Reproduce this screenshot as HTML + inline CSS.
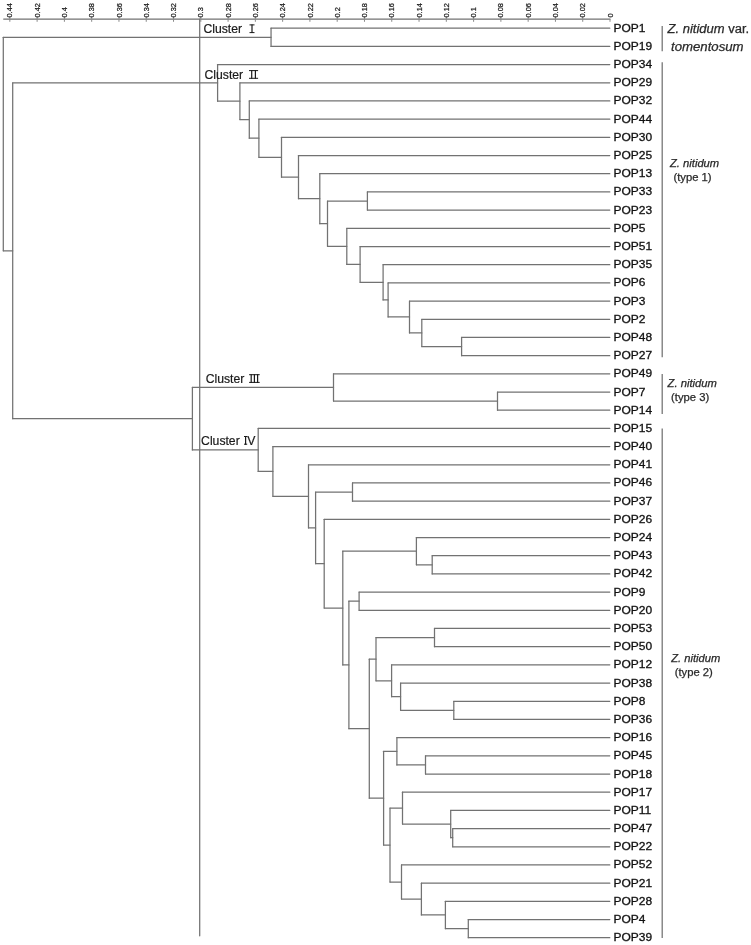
<!DOCTYPE html>
<html><head><meta charset="utf-8"><title>Dendrogram</title>
<style>
html,body{margin:0;padding:0;background:#fff;}
body{width:751px;height:945px;overflow:hidden;font-family:"Liberation Sans",sans-serif;}
svg{display:block;will-change:transform;opacity:0.999;}
svg text{font-family:"Liberation Sans",sans-serif;}
.ln line{stroke:#727272;stroke-width:1.25;stroke-linecap:round;}
.tk{font-size:7.4px;fill:#222;stroke:#222;stroke-width:0.25px;}
.lf{font-size:11.2px;fill:#111;stroke:#111;stroke-width:0.3px;}
.cl{font-size:12.2px;fill:#1a1a1a;stroke:#1a1a1a;stroke-width:0.2px;}
.rn line{stroke:#1a1a1a;stroke-width:1;}
.sp{fill:#2a2a2a;stroke:#2a2a2a;stroke-width:0.25px;}
</style></head><body>
<svg width="751" height="945" viewBox="0 0 751 945">
<rect width="751" height="945" fill="#fff"/>
<g class="ln">
<line x1="3.7" y1="19.0" x2="610.0" y2="19.0"/>
<line x1="199.7" y1="19.0" x2="199.7" y2="935.8"/>
<line x1="271.05" y1="28.22" x2="271.05" y2="46.41"/>
<line x1="271.05" y1="28.22" x2="609.80" y2="28.22"/>
<line x1="271.05" y1="46.41" x2="609.80" y2="46.41"/>
<line x1="367.40" y1="191.93" x2="367.40" y2="210.12"/>
<line x1="367.40" y1="191.93" x2="609.80" y2="191.93"/>
<line x1="367.40" y1="210.12" x2="609.80" y2="210.12"/>
<line x1="461.60" y1="337.45" x2="461.60" y2="355.64"/>
<line x1="461.60" y1="337.45" x2="609.80" y2="337.45"/>
<line x1="461.60" y1="355.64" x2="609.80" y2="355.64"/>
<line x1="421.80" y1="319.26" x2="421.80" y2="346.55"/>
<line x1="421.80" y1="319.26" x2="609.80" y2="319.26"/>
<line x1="421.80" y1="346.55" x2="461.60" y2="346.55"/>
<line x1="409.50" y1="301.07" x2="409.50" y2="332.90"/>
<line x1="409.50" y1="301.07" x2="609.80" y2="301.07"/>
<line x1="409.50" y1="332.90" x2="421.80" y2="332.90"/>
<line x1="388.10" y1="282.88" x2="388.10" y2="316.99"/>
<line x1="388.10" y1="282.88" x2="609.80" y2="282.88"/>
<line x1="388.10" y1="316.99" x2="409.50" y2="316.99"/>
<line x1="383.10" y1="264.69" x2="383.10" y2="299.93"/>
<line x1="383.10" y1="264.69" x2="609.80" y2="264.69"/>
<line x1="383.10" y1="299.93" x2="388.10" y2="299.93"/>
<line x1="360.10" y1="246.50" x2="360.10" y2="282.31"/>
<line x1="360.10" y1="246.50" x2="609.80" y2="246.50"/>
<line x1="360.10" y1="282.31" x2="383.10" y2="282.31"/>
<line x1="346.80" y1="228.31" x2="346.80" y2="264.41"/>
<line x1="346.80" y1="228.31" x2="609.80" y2="228.31"/>
<line x1="346.80" y1="264.41" x2="360.10" y2="264.41"/>
<line x1="327.50" y1="201.03" x2="327.50" y2="246.36"/>
<line x1="327.50" y1="201.03" x2="367.40" y2="201.03"/>
<line x1="327.50" y1="246.36" x2="346.80" y2="246.36"/>
<line x1="319.80" y1="173.74" x2="319.80" y2="223.69"/>
<line x1="319.80" y1="173.74" x2="609.80" y2="173.74"/>
<line x1="319.80" y1="223.69" x2="327.50" y2="223.69"/>
<line x1="298.50" y1="155.55" x2="298.50" y2="198.72"/>
<line x1="298.50" y1="155.55" x2="609.80" y2="155.55"/>
<line x1="298.50" y1="198.72" x2="319.80" y2="198.72"/>
<line x1="281.50" y1="137.36" x2="281.50" y2="177.13"/>
<line x1="281.50" y1="137.36" x2="609.80" y2="137.36"/>
<line x1="281.50" y1="177.13" x2="298.50" y2="177.13"/>
<line x1="258.90" y1="119.17" x2="258.90" y2="157.25"/>
<line x1="258.90" y1="119.17" x2="609.80" y2="119.17"/>
<line x1="258.90" y1="157.25" x2="281.50" y2="157.25"/>
<line x1="249.30" y1="100.98" x2="249.30" y2="138.21"/>
<line x1="249.30" y1="100.98" x2="609.80" y2="100.98"/>
<line x1="249.30" y1="138.21" x2="258.90" y2="138.21"/>
<line x1="239.90" y1="82.79" x2="239.90" y2="119.59"/>
<line x1="239.90" y1="82.79" x2="609.80" y2="82.79"/>
<line x1="239.90" y1="119.59" x2="249.30" y2="119.59"/>
<line x1="217.60" y1="64.60" x2="217.60" y2="101.19"/>
<line x1="217.60" y1="64.60" x2="609.80" y2="64.60"/>
<line x1="217.60" y1="101.19" x2="239.90" y2="101.19"/>
<line x1="497.50" y1="392.02" x2="497.50" y2="410.21"/>
<line x1="497.50" y1="392.02" x2="609.80" y2="392.02"/>
<line x1="497.50" y1="410.21" x2="609.80" y2="410.21"/>
<line x1="333.50" y1="373.83" x2="333.50" y2="401.12"/>
<line x1="333.50" y1="373.83" x2="609.80" y2="373.83"/>
<line x1="333.50" y1="401.12" x2="497.50" y2="401.12"/>
<line x1="352.50" y1="482.97" x2="352.50" y2="501.16"/>
<line x1="352.50" y1="482.97" x2="609.80" y2="482.97"/>
<line x1="352.50" y1="501.16" x2="609.80" y2="501.16"/>
<line x1="432.20" y1="555.73" x2="432.20" y2="573.92"/>
<line x1="432.20" y1="555.73" x2="609.80" y2="555.73"/>
<line x1="432.20" y1="573.92" x2="609.80" y2="573.92"/>
<line x1="416.40" y1="537.54" x2="416.40" y2="564.83"/>
<line x1="416.40" y1="537.54" x2="609.80" y2="537.54"/>
<line x1="416.40" y1="564.83" x2="432.20" y2="564.83"/>
<line x1="359.10" y1="592.11" x2="359.10" y2="610.30"/>
<line x1="359.10" y1="592.11" x2="609.80" y2="592.11"/>
<line x1="359.10" y1="610.30" x2="609.80" y2="610.30"/>
<line x1="434.50" y1="628.49" x2="434.50" y2="646.68"/>
<line x1="434.50" y1="628.49" x2="609.80" y2="628.49"/>
<line x1="434.50" y1="646.68" x2="609.80" y2="646.68"/>
<line x1="453.80" y1="701.25" x2="453.80" y2="719.44"/>
<line x1="453.80" y1="701.25" x2="609.80" y2="701.25"/>
<line x1="453.80" y1="719.44" x2="609.80" y2="719.44"/>
<line x1="400.60" y1="683.06" x2="400.60" y2="710.35"/>
<line x1="400.60" y1="683.06" x2="609.80" y2="683.06"/>
<line x1="400.60" y1="710.35" x2="453.80" y2="710.35"/>
<line x1="391.60" y1="664.87" x2="391.60" y2="696.70"/>
<line x1="391.60" y1="664.87" x2="609.80" y2="664.87"/>
<line x1="391.60" y1="696.70" x2="400.60" y2="696.70"/>
<line x1="376.00" y1="637.59" x2="376.00" y2="680.79"/>
<line x1="376.00" y1="637.59" x2="434.50" y2="637.59"/>
<line x1="376.00" y1="680.79" x2="391.60" y2="680.79"/>
<line x1="425.50" y1="755.82" x2="425.50" y2="774.01"/>
<line x1="425.50" y1="755.82" x2="609.80" y2="755.82"/>
<line x1="425.50" y1="774.01" x2="609.80" y2="774.01"/>
<line x1="396.90" y1="737.63" x2="396.90" y2="764.92"/>
<line x1="396.90" y1="737.63" x2="609.80" y2="737.63"/>
<line x1="396.90" y1="764.92" x2="425.50" y2="764.92"/>
<line x1="452.70" y1="828.58" x2="452.70" y2="846.77"/>
<line x1="452.70" y1="828.58" x2="609.80" y2="828.58"/>
<line x1="452.70" y1="846.77" x2="609.80" y2="846.77"/>
<line x1="450.70" y1="810.39" x2="450.70" y2="837.68"/>
<line x1="450.70" y1="810.39" x2="609.80" y2="810.39"/>
<line x1="450.70" y1="837.68" x2="452.70" y2="837.68"/>
<line x1="402.50" y1="792.20" x2="402.50" y2="824.03"/>
<line x1="402.50" y1="792.20" x2="609.80" y2="792.20"/>
<line x1="402.50" y1="824.03" x2="450.70" y2="824.03"/>
<line x1="468.30" y1="919.53" x2="468.30" y2="937.72"/>
<line x1="468.30" y1="919.53" x2="609.80" y2="919.53"/>
<line x1="468.30" y1="937.72" x2="609.80" y2="937.72"/>
<line x1="445.40" y1="901.34" x2="445.40" y2="928.63"/>
<line x1="445.40" y1="901.34" x2="609.80" y2="901.34"/>
<line x1="445.40" y1="928.63" x2="468.30" y2="928.63"/>
<line x1="421.40" y1="883.15" x2="421.40" y2="914.98"/>
<line x1="421.40" y1="883.15" x2="609.80" y2="883.15"/>
<line x1="421.40" y1="914.98" x2="445.40" y2="914.98"/>
<line x1="401.50" y1="864.96" x2="401.50" y2="899.07"/>
<line x1="401.50" y1="864.96" x2="609.80" y2="864.96"/>
<line x1="401.50" y1="899.07" x2="421.40" y2="899.07"/>
<line x1="390.00" y1="808.12" x2="390.00" y2="882.01"/>
<line x1="390.00" y1="808.12" x2="402.50" y2="808.12"/>
<line x1="390.00" y1="882.01" x2="401.50" y2="882.01"/>
<line x1="383.60" y1="751.27" x2="383.60" y2="845.06"/>
<line x1="383.60" y1="751.27" x2="396.90" y2="751.27"/>
<line x1="383.60" y1="845.06" x2="390.00" y2="845.06"/>
<line x1="369.30" y1="659.19" x2="369.30" y2="798.17"/>
<line x1="369.30" y1="659.19" x2="376.00" y2="659.19"/>
<line x1="369.30" y1="798.17" x2="383.60" y2="798.17"/>
<line x1="348.90" y1="601.21" x2="348.90" y2="728.68"/>
<line x1="348.90" y1="601.21" x2="359.10" y2="601.21"/>
<line x1="348.90" y1="728.68" x2="369.30" y2="728.68"/>
<line x1="342.80" y1="551.18" x2="342.80" y2="664.94"/>
<line x1="342.80" y1="551.18" x2="416.40" y2="551.18"/>
<line x1="342.80" y1="664.94" x2="348.90" y2="664.94"/>
<line x1="324.20" y1="519.35" x2="324.20" y2="608.06"/>
<line x1="324.20" y1="519.35" x2="609.80" y2="519.35"/>
<line x1="324.20" y1="608.06" x2="342.80" y2="608.06"/>
<line x1="315.60" y1="492.07" x2="315.60" y2="563.71"/>
<line x1="315.60" y1="492.07" x2="352.50" y2="492.07"/>
<line x1="315.60" y1="563.71" x2="324.20" y2="563.71"/>
<line x1="308.50" y1="464.78" x2="308.50" y2="527.89"/>
<line x1="308.50" y1="464.78" x2="609.80" y2="464.78"/>
<line x1="308.50" y1="527.89" x2="315.60" y2="527.89"/>
<line x1="272.90" y1="446.59" x2="272.90" y2="496.33"/>
<line x1="272.90" y1="446.59" x2="609.80" y2="446.59"/>
<line x1="272.90" y1="496.33" x2="308.50" y2="496.33"/>
<line x1="258.20" y1="428.40" x2="258.20" y2="471.46"/>
<line x1="258.20" y1="428.40" x2="609.80" y2="428.40"/>
<line x1="258.20" y1="471.46" x2="272.90" y2="471.46"/>
<line x1="192.40" y1="387.47" x2="192.40" y2="449.93"/>
<line x1="192.40" y1="387.47" x2="333.50" y2="387.47"/>
<line x1="192.40" y1="449.93" x2="258.20" y2="449.93"/>
<line x1="12.70" y1="82.90" x2="12.70" y2="418.70"/>
<line x1="12.70" y1="82.90" x2="217.60" y2="82.90"/>
<line x1="12.70" y1="418.70" x2="192.40" y2="418.70"/>
<line x1="3.30" y1="37.31" x2="3.30" y2="250.80"/>
<line x1="3.30" y1="37.31" x2="271.05" y2="37.31"/>
<line x1="3.30" y1="250.80" x2="12.70" y2="250.80"/>
<line x1="662.2" y1="25.9" x2="662.2" y2="51.2" style="stroke-linecap:butt"/>
<line x1="662.2" y1="62.3" x2="662.2" y2="357.3" style="stroke-linecap:butt"/>
<line x1="662.2" y1="374.0" x2="662.2" y2="413.9" style="stroke-linecap:butt"/>
<line x1="662.2" y1="428.5" x2="662.2" y2="938.0" style="stroke-linecap:butt"/>
</g>
<g>
<line x1="610.00" y1="18.9" x2="610.00" y2="21.8" stroke="#8a8a8a" stroke-width="1"/>
<text class="tk" transform="translate(612.60,17.5) rotate(-90)">0</text>
<line x1="582.72" y1="16.6" x2="582.72" y2="21.8" stroke="#8a8a8a" stroke-width="1"/>
<text class="tk" transform="translate(585.32,17.5) rotate(-90)">0.02</text>
<line x1="555.44" y1="16.6" x2="555.44" y2="21.8" stroke="#8a8a8a" stroke-width="1"/>
<text class="tk" transform="translate(558.04,17.5) rotate(-90)">0.04</text>
<line x1="528.16" y1="16.6" x2="528.16" y2="21.8" stroke="#8a8a8a" stroke-width="1"/>
<text class="tk" transform="translate(530.76,17.5) rotate(-90)">0.06</text>
<line x1="500.88" y1="16.6" x2="500.88" y2="21.8" stroke="#8a8a8a" stroke-width="1"/>
<text class="tk" transform="translate(503.48,17.5) rotate(-90)">0.08</text>
<line x1="473.60" y1="16.6" x2="473.60" y2="21.8" stroke="#8a8a8a" stroke-width="1"/>
<text class="tk" transform="translate(476.20,17.5) rotate(-90)">0.1</text>
<line x1="446.32" y1="16.6" x2="446.32" y2="21.8" stroke="#8a8a8a" stroke-width="1"/>
<text class="tk" transform="translate(448.92,17.5) rotate(-90)">0.12</text>
<line x1="419.04" y1="16.6" x2="419.04" y2="21.8" stroke="#8a8a8a" stroke-width="1"/>
<text class="tk" transform="translate(421.64,17.5) rotate(-90)">0.14</text>
<line x1="391.76" y1="16.6" x2="391.76" y2="21.8" stroke="#8a8a8a" stroke-width="1"/>
<text class="tk" transform="translate(394.36,17.5) rotate(-90)">0.16</text>
<line x1="364.48" y1="16.6" x2="364.48" y2="21.8" stroke="#8a8a8a" stroke-width="1"/>
<text class="tk" transform="translate(367.08,17.5) rotate(-90)">0.18</text>
<line x1="337.20" y1="16.6" x2="337.20" y2="21.8" stroke="#8a8a8a" stroke-width="1"/>
<text class="tk" transform="translate(339.80,17.5) rotate(-90)">0.2</text>
<line x1="309.92" y1="16.6" x2="309.92" y2="21.8" stroke="#8a8a8a" stroke-width="1"/>
<text class="tk" transform="translate(312.52,17.5) rotate(-90)">0.22</text>
<line x1="282.64" y1="16.6" x2="282.64" y2="21.8" stroke="#8a8a8a" stroke-width="1"/>
<text class="tk" transform="translate(285.24,17.5) rotate(-90)">0.24</text>
<line x1="255.36" y1="16.6" x2="255.36" y2="21.8" stroke="#8a8a8a" stroke-width="1"/>
<text class="tk" transform="translate(257.96,17.5) rotate(-90)">0.26</text>
<line x1="228.08" y1="16.6" x2="228.08" y2="21.8" stroke="#8a8a8a" stroke-width="1"/>
<text class="tk" transform="translate(230.68,17.5) rotate(-90)">0.28</text>
<line x1="200.80" y1="16.6" x2="200.80" y2="21.8" stroke="#8a8a8a" stroke-width="1"/>
<text class="tk" transform="translate(203.40,17.5) rotate(-90)">0.3</text>
<line x1="173.52" y1="16.6" x2="173.52" y2="21.8" stroke="#8a8a8a" stroke-width="1"/>
<text class="tk" transform="translate(176.12,17.5) rotate(-90)">0.32</text>
<line x1="146.24" y1="16.6" x2="146.24" y2="21.8" stroke="#8a8a8a" stroke-width="1"/>
<text class="tk" transform="translate(148.84,17.5) rotate(-90)">0.34</text>
<line x1="118.96" y1="16.6" x2="118.96" y2="21.8" stroke="#8a8a8a" stroke-width="1"/>
<text class="tk" transform="translate(121.56,17.5) rotate(-90)">0.36</text>
<line x1="91.68" y1="16.6" x2="91.68" y2="21.8" stroke="#8a8a8a" stroke-width="1"/>
<text class="tk" transform="translate(94.28,17.5) rotate(-90)">0.38</text>
<line x1="64.40" y1="16.6" x2="64.40" y2="21.8" stroke="#8a8a8a" stroke-width="1"/>
<text class="tk" transform="translate(67.00,17.5) rotate(-90)">0.4</text>
<line x1="37.12" y1="16.6" x2="37.12" y2="21.8" stroke="#8a8a8a" stroke-width="1"/>
<text class="tk" transform="translate(39.72,17.5) rotate(-90)">0.42</text>
<line x1="9.84" y1="16.6" x2="9.84" y2="21.8" stroke="#8a8a8a" stroke-width="1"/>
<text class="tk" transform="translate(12.44,17.5) rotate(-90)">0.44</text>
</g>
<g class="lf">
<text transform="translate(613.5,31.72) scale(1.07,1)">POP1</text>
<text transform="translate(613.5,49.91) scale(1.07,1)">POP19</text>
<text transform="translate(613.5,68.10) scale(1.07,1)">POP34</text>
<text transform="translate(613.5,86.29) scale(1.07,1)">POP29</text>
<text transform="translate(613.5,104.48) scale(1.07,1)">POP32</text>
<text transform="translate(613.5,122.67) scale(1.07,1)">POP44</text>
<text transform="translate(613.5,140.86) scale(1.07,1)">POP30</text>
<text transform="translate(613.5,159.05) scale(1.07,1)">POP25</text>
<text transform="translate(613.5,177.24) scale(1.07,1)">POP13</text>
<text transform="translate(613.5,195.43) scale(1.07,1)">POP33</text>
<text transform="translate(613.5,213.62) scale(1.07,1)">POP23</text>
<text transform="translate(613.5,231.81) scale(1.07,1)">POP5</text>
<text transform="translate(613.5,250.00) scale(1.07,1)">POP51</text>
<text transform="translate(613.5,268.19) scale(1.07,1)">POP35</text>
<text transform="translate(613.5,286.38) scale(1.07,1)">POP6</text>
<text transform="translate(613.5,304.57) scale(1.07,1)">POP3</text>
<text transform="translate(613.5,322.76) scale(1.07,1)">POP2</text>
<text transform="translate(613.5,340.95) scale(1.07,1)">POP48</text>
<text transform="translate(613.5,359.14) scale(1.07,1)">POP27</text>
<text transform="translate(613.5,377.33) scale(1.07,1)">POP49</text>
<text transform="translate(613.5,395.52) scale(1.07,1)">POP7</text>
<text transform="translate(613.5,413.71) scale(1.07,1)">POP14</text>
<text transform="translate(613.5,431.90) scale(1.07,1)">POP15</text>
<text transform="translate(613.5,450.09) scale(1.07,1)">POP40</text>
<text transform="translate(613.5,468.28) scale(1.07,1)">POP41</text>
<text transform="translate(613.5,486.47) scale(1.07,1)">POP46</text>
<text transform="translate(613.5,504.66) scale(1.07,1)">POP37</text>
<text transform="translate(613.5,522.85) scale(1.07,1)">POP26</text>
<text transform="translate(613.5,541.04) scale(1.07,1)">POP24</text>
<text transform="translate(613.5,559.23) scale(1.07,1)">POP43</text>
<text transform="translate(613.5,577.42) scale(1.07,1)">POP42</text>
<text transform="translate(613.5,595.61) scale(1.07,1)">POP9</text>
<text transform="translate(613.5,613.80) scale(1.07,1)">POP20</text>
<text transform="translate(613.5,631.99) scale(1.07,1)">POP53</text>
<text transform="translate(613.5,650.18) scale(1.07,1)">POP50</text>
<text transform="translate(613.5,668.37) scale(1.07,1)">POP12</text>
<text transform="translate(613.5,686.56) scale(1.07,1)">POP38</text>
<text transform="translate(613.5,704.75) scale(1.07,1)">POP8</text>
<text transform="translate(613.5,722.94) scale(1.07,1)">POP36</text>
<text transform="translate(613.5,741.13) scale(1.07,1)">POP16</text>
<text transform="translate(613.5,759.32) scale(1.07,1)">POP45</text>
<text transform="translate(613.5,777.51) scale(1.07,1)">POP18</text>
<text transform="translate(613.5,795.70) scale(1.07,1)">POP17</text>
<text transform="translate(613.5,813.89) scale(1.07,1)">POP11</text>
<text transform="translate(613.5,832.08) scale(1.07,1)">POP47</text>
<text transform="translate(613.5,850.27) scale(1.07,1)">POP22</text>
<text transform="translate(613.5,868.46) scale(1.07,1)">POP52</text>
<text transform="translate(613.5,886.65) scale(1.07,1)">POP21</text>
<text transform="translate(613.5,904.84) scale(1.07,1)">POP28</text>
<text transform="translate(613.5,923.03) scale(1.07,1)">POP4</text>
<text transform="translate(613.5,941.22) scale(1.07,1)">POP39</text>
</g>
<g class="cl">
<text x="203.4" y="33.1">Cluster</text>
<text x="204.5" y="78.8">Cluster</text>
<text x="205.7" y="382.9">Cluster</text>
<text x="201.1" y="444.7">Cluster</text>
<text x="247.2" y="444.7">V</text>
</g>
<g class="rn">
<line x1="249.5" y1="24.9" x2="254.5" y2="24.9"/><line x1="249.5" y1="32.6" x2="254.5" y2="32.6"/><line x1="252.0" y1="24.4" x2="252.0" y2="33.1" style="stroke-width:1.2"/>
<line x1="249.0" y1="70.6" x2="258.1" y2="70.6"/><line x1="249.0" y1="78.3" x2="258.1" y2="78.3"/><line x1="251.7" y1="70.1" x2="251.7" y2="78.8" style="stroke-width:1.2"/><line x1="255.4" y1="70.1" x2="255.4" y2="78.8" style="stroke-width:1.2"/>
<line x1="249.1" y1="374.7" x2="259.7" y2="374.7"/><line x1="249.1" y1="382.4" x2="259.7" y2="382.4"/><line x1="251.2" y1="374.2" x2="251.2" y2="382.9" style="stroke-width:1.2"/><line x1="254.4" y1="374.2" x2="254.4" y2="382.9" style="stroke-width:1.2"/><line x1="257.6" y1="374.2" x2="257.6" y2="382.9" style="stroke-width:1.2"/>
<line x1="244.0" y1="436.5" x2="247.2" y2="436.5"/><line x1="244.0" y1="444.2" x2="247.2" y2="444.2"/><line x1="245.6" y1="436.0" x2="245.6" y2="444.7" style="stroke-width:1.2"/>
</g>
<g class="sp">
<text x="667.6" y="33.2" textLength="81.6" lengthAdjust="spacingAndGlyphs" style="font-size:12px"><tspan style="font-style:italic">Z. nitidum</tspan> var.</text>
<text x="671.0" y="50.7" textLength="72.6" lengthAdjust="spacingAndGlyphs" style="font-size:12px;font-style:italic;">tomentosum</text>
<text x="670.0" y="167.0" textLength="49.2" lengthAdjust="spacingAndGlyphs" style="font-size:10.3px;font-style:italic;">Z. nitidum</text>
<text x="673.4" y="181.3" textLength="38.2" lengthAdjust="spacingAndGlyphs" style="font-size:10.3px;">(type 1)</text>
<text x="667.6" y="386.9" textLength="49.3" lengthAdjust="spacingAndGlyphs" style="font-size:10.3px;font-style:italic;">Z. nitidum</text>
<text x="671.0" y="401.3" textLength="38.2" lengthAdjust="spacingAndGlyphs" style="font-size:10.3px;">(type 3)</text>
<text x="671.2" y="662.0" textLength="49.0" lengthAdjust="spacingAndGlyphs" style="font-size:10.3px;font-style:italic;">Z. nitidum</text>
<text x="674.7" y="676.2" textLength="38.2" lengthAdjust="spacingAndGlyphs" style="font-size:10.3px;">(type 2)</text>
</g>
</svg>
</body></html>
